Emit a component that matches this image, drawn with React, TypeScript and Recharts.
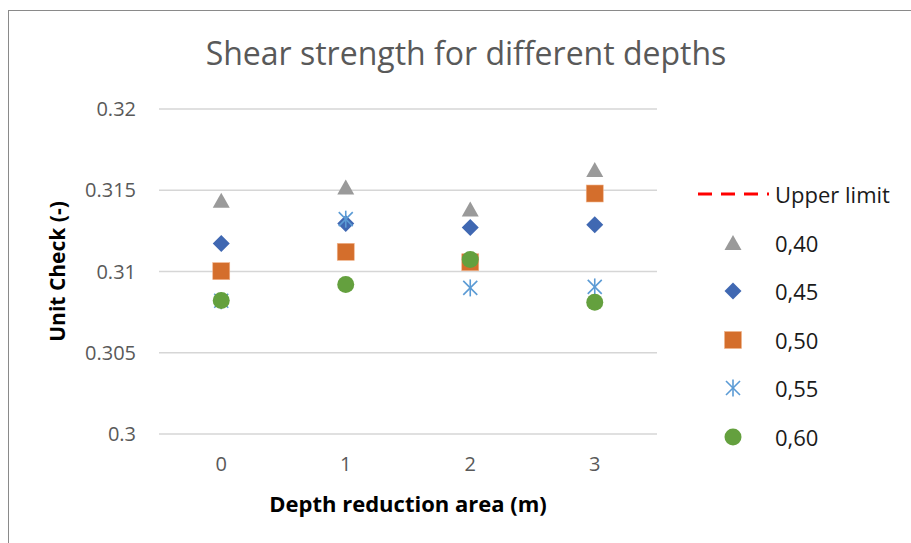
import React from "react";
import { ScatterChart, Scatter, XAxis, YAxis, CartesianGrid } from "recharts";

// Depth reduction area (m)
const categories = [0, 1, 2, 3];

// Unit check per series (label = series name)
const series040 = [0.31435, 0.31517, 0.31382, 0.31624];
const series045 = [0.31172, 0.31296, 0.31271, 0.31287];
const series050 = [0.31002, 0.31121, 0.31057, 0.3148];
const series055 = [0.3082, 0.31322, 0.30899, 0.30905];
const series060 = [0.30821, 0.3092, 0.31074, 0.30811];
const upperLimit = [1.0, 1.0, 1.0, 1.0];

const yTicks = [0.3, 0.305, 0.31, 0.315, 0.32];

const FONT = "'Open Sans', 'Noto Sans', sans-serif";
const W = 911;
const H = 543;

const toPoints = (vals: number[]) => categories.map((c, i) => ({ x: c, y: vals[i] }));

const Triangle = ({ cx, cy, color }: any) => (
  <polygon points={`${cx},${cy - 8} ${cx - 8.5},${cy + 7} ${cx + 8.5},${cy + 7}`} fill={color} />
);
const Diamond = ({ cx, cy, color }: any) => (
  <polygon points={`${cx},${cy - 8.5} ${cx + 8.5},${cy} ${cx},${cy + 8.5} ${cx - 8.5},${cy}`} fill={color} />
);
const Square = ({ cx, cy, color }: any) => (
  <rect x={cx - 8.5} y={cy - 8.5} width={17} height={17} fill={color} stroke="#f0b48c" strokeWidth={0.6} />
);
const Star = ({ cx, cy, color }: any) => (
  <g stroke={color} strokeWidth={1.6} fill="none">
    <line x1={cx - 7} y1={cy - 7} x2={cx + 7} y2={cy + 7} />
    <line x1={cx - 7} y1={cy + 7} x2={cx + 7} y2={cy - 7} />
    <line x1={cx} y1={cy - 8.5} x2={cx} y2={cy + 8.5} />
  </g>
);
const Dot = ({ cx, cy, color }: any) => <circle cx={cx} cy={cy} r={8.5} fill={color} />;

const seriesList = [
  { name: "0,40", values: series040, color: "#9a9a9a", Marker: Triangle },
  { name: "0,45", values: series045, color: "#4068b2", Marker: Diamond },
  { name: "0,50", values: series050, color: "#d46e2c", Marker: Square },
  { name: "0,55", values: series055, color: "#5b9bd5", Marker: Star },
  { name: "0,60", values: series060, color: "#64a03e", Marker: Dot },
];

const LegendBox = () => (
  <div style={{ position: "absolute", left: 690, top: 170, width: 220, fontFamily: FONT, fontSize: 22, color: "#1a1a1a" }}>
    <div style={{ position: "absolute", top: 0, left: 0, height: 48, display: "flex", alignItems: "center", whiteSpace: "nowrap" }}>
      <svg width={84} height={20}>
        <line x1={8} y1={10} x2={79} y2={10} stroke="#ff0000" strokeWidth={3} strokeDasharray="14 9" />
      </svg>
      <span style={{ marginLeft: 1 }}>Upper limit</span>
    </div>
    {seriesList.map((s, i) => (
      <div key={s.name} style={{ position: "absolute", top: 48.5 * (i + 1), left: 0, height: 48, display: "flex", alignItems: "center" }}>
        <svg width={84} height={24}>
          <s.Marker cx={43} cy={12} color={s.color} />
        </svg>
        <span style={{ marginLeft: 1 }}>{s.name}</span>
      </div>
    ))}
  </div>
);

const YTitle = (props: any) => {
  const vb = props.viewBox;
  const x = vb.x + 57;
  const y = vb.y + vb.height / 2;
  return (
    <text
      x={x}
      y={y}
      transform={`rotate(-90 ${x} ${y})`}
      textAnchor="middle"
      dominantBaseline="central"
      fontFamily={FONT}
      fontSize={21}
      fontWeight={700}
      fill="#000"
    >
      Unit Check (-)
    </text>
  );
};

export default function App() {
  return (
    <div style={{ position: "absolute", left: 0, top: 0, width: W, height: H, overflow: "hidden", background: "#fff" }}>
      <div style={{ position: "absolute", left: 8, top: 10, width: 1000, height: 700, border: "1px solid #8a8a8a", boxSizing: "border-box" }} />
      <div style={{ position: "absolute", left: 0, top: 32, width: 932, textAlign: "center", fontFamily: FONT, fontSize: 32, color: "#595959", lineHeight: "42px", whiteSpace: "nowrap" }}>
        Shear strength for different depths
      </div>
      <div style={{ position: "absolute", left: 0, top: 0 }}>
        <ScatterChart width={W} height={H} margin={{ top: 109, right: 254, bottom: 0, left: 0 }}>
          <CartesianGrid horizontal vertical={false} stroke="#d6d6d6" strokeWidth={1.3} />
          <XAxis
            type="number"
            dataKey="x"
            domain={[-0.5, 3.5]}
            ticks={categories}
            height={109}
            axisLine={false}
            tickLine={false}
            tickSize={0}
            tickMargin={23}
            tick={{ fontFamily: FONT, fontSize: 20, fill: "#595959" }}
            label={{ value: "Depth reduction area (m)", position: "insideBottom", offset: 31, style: { fontFamily: FONT, fontSize: 22, fontWeight: 700, fill: "#000" } }}
          />
          <YAxis
            type="number"
            dataKey="y"
            domain={[0.3, 0.32]}
            ticks={yTicks}
            allowDataOverflow
            width={159}
            axisLine={false}
            tickLine={false}
            tickSize={0}
            tickMargin={23}
            tick={{ fontFamily: FONT, fontSize: 20, fill: "#595959" }}
            label={<YTitle />}
          />
          <Scatter
            name="Upper limit"
            data={toPoints(upperLimit)}
            line={{ stroke: "#ff0000", strokeWidth: 3, strokeDasharray: "14 9" }}
            shape={() => <g />}
            isAnimationActive={false}
          />
          {seriesList.map((s) => (
            <Scatter
              key={s.name}
              name={s.name}
              data={toPoints(s.values)}
              shape={(p: any) => <s.Marker cx={p.cx} cy={p.cy} color={s.color} />}
              isAnimationActive={false}
            />
          ))}
        </ScatterChart>
      </div>
      <LegendBox />
    </div>
  );
}
